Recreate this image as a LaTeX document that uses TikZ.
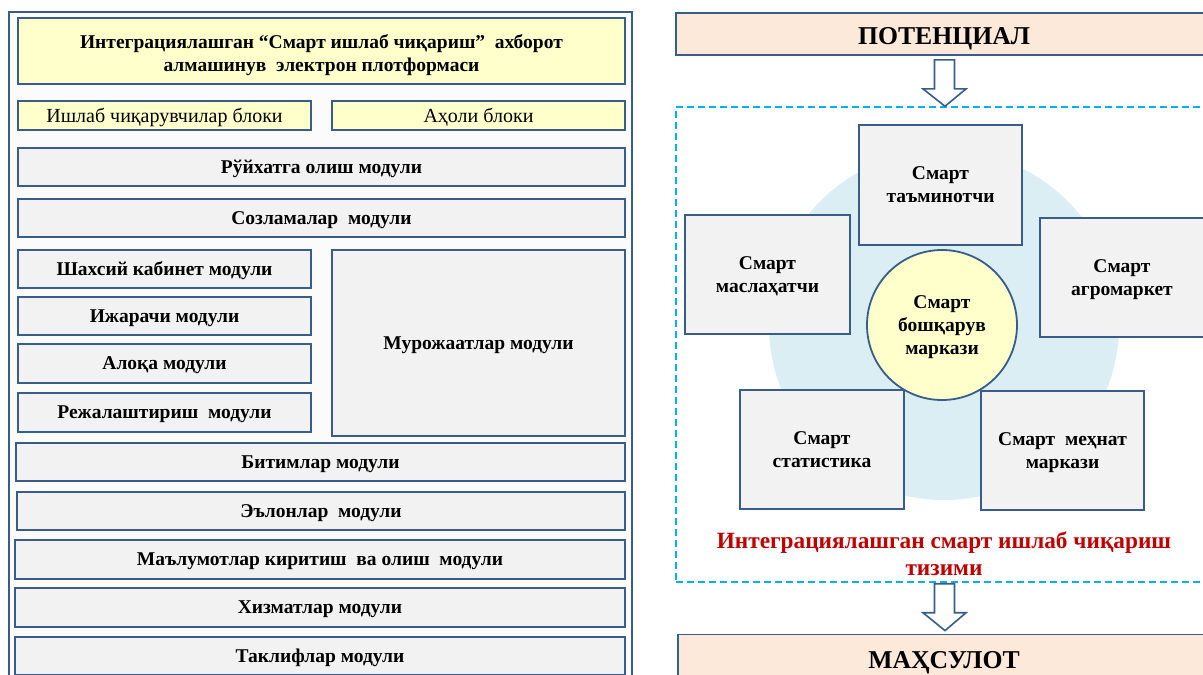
\documentclass[tikz,border=0pt]{standalone}
\usepackage{fontspec}
\setmainfont{Liberation Serif}
\usetikzlibrary{calc}
\definecolor{bordc}{RGB}{56,93,138}
\definecolor{grayf}{RGB}{242,242,242}
\definecolor{yelf}{RGB}{255,255,204}
\definecolor{peach}{RGB}{253,233,217}
\definecolor{lblue}{RGB}{218,238,243}
\definecolor{cyanl}{RGB}{0,176,240}
\definecolor{darkred}{RGB}{192,0,0}
\tikzset{
  box/.style={draw=bordc, line width=1.8pt, fill=grayf, rectangle, inner sep=2pt, text depth=0pt, align=center, font=\fontsize{19.5}{23}\selectfont\bfseries},
  ybox/.style={box, fill=yelf},
  lbl/.style={ybox, font=\fontsize{20}{23}\selectfont},
  rbox/.style={box, execute at begin node={\rule{0pt}{20pt}}, font=\fontsize{19.5}{23}\selectfont\bfseries},
  hdr/.style={box, fill=peach, font=\fontsize{25.7}{30}\selectfont\bfseries},
  hollow/.style={draw=bordc, line width=1.6pt, fill=white, line join=miter},
}
\begin{document}
\begin{tikzpicture}[x=1pt,y=-1pt]
\useasboundingbox (0,0) rectangle (1203,675);
\clip (0,0) rectangle (1203,675);
\fill[white] (0,0) rectangle (1203,675);
% left frame
\draw[draw=bordc, line width=1.8pt, fill=white!97!gray] (9,12) rectangle (632,700);
\node[ybox, minimum width=607, minimum height=66] (title) at (321.5,51) {\rule{0pt}{17pt}Интеграциялашган “Смарт ишлаб чиқариш”~ ахборот\\алмашинув~ электрон плотформаси};
\node[lbl, minimum width=293, minimum height=29] (prod) at (164.5,115.5) {Ишлаб чиқарувчилар блоки};
\node[lbl, minimum width=293, minimum height=29] (aholi) at (478.5,115.5) {Аҳоли блоки};
\node[box, minimum width=607, minimum height=38] (ruy) at (321.5,167) {Рўйхатга олиш модули};
\node[box, minimum width=607, minimum height=38] (soz) at (321.5,218) {Созламалар~ модули};
\node[box, minimum width=293, minimum height=38] (shax) at (164.5,269) {Шахсий кабинет модули};
\node[box, minimum width=293, minimum height=38] (ijar) at (164.5,316) {Ижарачи модули};
\node[box, minimum width=293, minimum height=39] (aloq) at (164.5,363.5) {Алоқа модули};
\node[box, minimum width=293, minimum height=39] (rej) at (164.5,412.5) {Режалаштириш~ модули};
\node[box, minimum width=293, minimum height=186] (mur) at (478.5,343) {Мурожаатлар модули};
\node[box, minimum width=609, minimum height=38] (bit) at (320.5,462) {Битимлар модули};
\node[box, minimum width=608, minimum height=38] (elon) at (321,511) {Эълонлар~ модули};
\node[box, minimum width=610, minimum height=39] (mal) at (320,559.5) {Маълумотлар киритиш~ ва олиш~ модули};
\node[box, minimum width=610, minimum height=39] (xiz) at (320,607.5) {Хизматлар модули};
\node[box, minimum width=610, minimum height=38] (tak) at (320,656) {Таклифлар модули};
% right side
\node[hdr, minimum width=536, minimum height=42] (pot) at (944,34) {\rule{0pt}{21pt}ПОТЕНЦИАЛ};
\node[draw=cyanl, dash pattern=on 7pt off 4pt, line width=1.5pt, minimum width=536, minimum height=475, inner sep=0pt] (sys) at (944,344.5) {};
\fill[lblue] (944,325) circle (175);
\node[rbox, minimum width=163, minimum height=120] (tam) at (940.5,185) {Смарт\\таъминотчи};
\node[rbox, minimum width=165, minimum height=119] (mas) at (767.5,274.5) {Смарт\\маслаҳатчи};
\node[rbox, minimum width=164, minimum height=119] (agro) at (1122,277.5) {Смарт\\агромаркет};
\node[rbox, minimum width=164, minimum height=119] (stat) at (822,449.5) {Смарт\\статистика};
\node[rbox, minimum width=163, minimum height=119] (meh) at (1062.5,450.5) {Смарт~ меҳнат\\маркази};
\node[box, circle, fill=yelf, minimum size=150, inner sep=0pt, font=\fontsize{19.5}{23}\selectfont\bfseries] (ctr) at (942,325) {Смарт\\бошқарув\\маркази};
\node[align=center, text=darkred, font=\fontsize{23.3}{27}\selectfont\bfseries] (sysl) at (944,554) {Интеграциялашган смарт ишлаб чиқариш\\тизими};
\node[hdr, minimum width=532, minimum height=55] (mah) at (944,662) {\raisebox{5pt}{МАҲСУЛОТ}};
% hollow arrows
\draw[hollow] ($(pot.south)+(-9.5,4)$) -- ($(pot.south)+(-9.5,33)$) -- ($(pot.south)+(-21,33)$) -- ($(sys.north)+(1,0)$) -- ($(pot.south)+(22,33)$) -- ($(pot.south)+(10.5,33)$) -- ($(pot.south)+(10.5,4)$) -- cycle;
\draw[hollow] ($(sys.south)+(-9.5,1)$) -- ($(sys.south)+(-9.5,30)$) -- ($(sys.south)+(-21,30)$) -- ($(mah.north)+(1,-3)$) -- ($(sys.south)+(22,30)$) -- ($(sys.south)+(10.5,30)$) -- ($(sys.south)+(10.5,1)$) -- cycle;
\end{tikzpicture}
\end{document}
